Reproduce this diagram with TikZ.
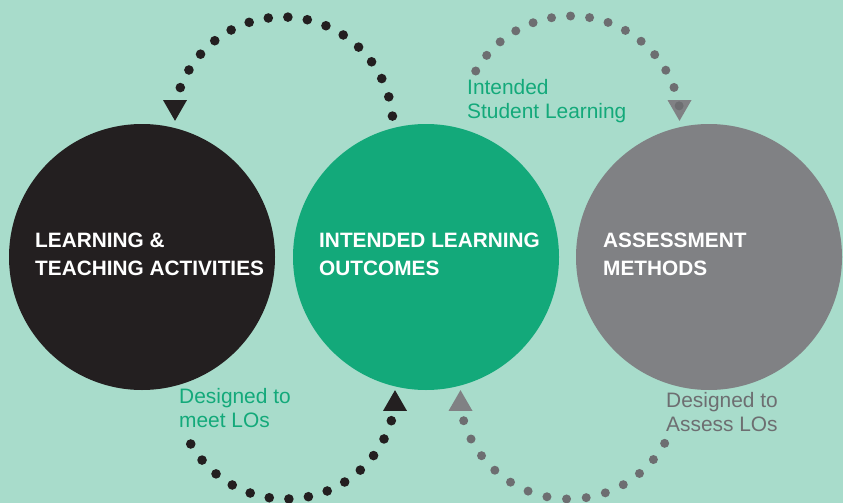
\documentclass[tikz,border=0pt]{standalone}
\usepackage{fontspec}
\setmainfont{Liberation Sans}
\usetikzlibrary{shapes.geometric}
\definecolor{bgmint}{HTML}{A8DCCB}
\definecolor{inkblack}{HTML}{231F20}
\definecolor{olgreen}{HTML}{13A97A}
\definecolor{amgray}{HTML}{808184}
\definecolor{dotgray}{HTML}{6D6E71}
\begin{document}
\begin{tikzpicture}[x=1pt, y=-1pt,
  disc/.style={circle, minimum size=266pt, inner sep=0pt, fill},
  head/.style={regular polygon, regular polygon sides=3, minimum size=27.7pt, inner sep=0pt, fill},
  caps/.style={anchor=west, inner sep=0pt, align=left, text=white, font=\bfseries\fontsize{20.8}{28}\selectfont},
  note/.style={anchor=west, inner sep=0pt, align=left, font=\fontsize{20.9}{23.5}\selectfont}]
\fill[bgmint] (0,0) rectangle (843,503);
\useasboundingbox (0,0) rectangle (843,503);
\node[disc, inkblack] (lta) at (142,257){};
\node[disc, olgreen] (ilo) at (426,257){};
\node[disc, amgray] (asm) at (709,257){};
\node[caps] (ltatext) at (35,254){LEARNING \&\\TEACHING ACTIVITIES};
\node[caps] (ilotext) at (319,254){INTENDED LEARNING\\OUTCOMES};
\node[caps] (asmtext) at (603,254){ASSESSMENT\\METHODS};
\coordinate (ltop) at (283,127);
\coordinate (rtop) at (571,126);
\coordinate (lbot) at (286,389);
\coordinate (rbot) at (569,389);
\node[head, inkblack, rotate=180] (lhead) at (175,107){};
\node[head, amgray, rotate=180] (rhead) at (679.5,107){};
\node[head, inkblack] (bhead) at (395,404){};
\node[head, amgray] (ghead) at (460.5,404){};
\foreach \a in {0,...,15} \fill[inkblack] (ltop) ++({-5.7-\a*10.22}:110) circle (4.8pt);
\foreach \a in {0,...,14} \fill[dotgray] (rtop) ++({-150+\a*9.96}:110) circle (4.5pt);
\foreach \a in {0,...,13} \fill[inkblack] (lbot) ++({150-\a*10.25}:110) circle (4.8pt);
\foreach \a in {0,...,13} \fill[dotgray] (rbot) ++({29.6+\a*10.28}:110) circle (4.5pt);
\node[note, text=olgreen] (isl) at (467,101){Intended\\Student Learning};
\node[note, text=olgreen] (dmeet) at (179,408){Designed to\\meet LOs};
\node[note, text=dotgray] (dassess) at (666,412){Designed to\\Assess LOs};
\end{tikzpicture}
\end{document}
